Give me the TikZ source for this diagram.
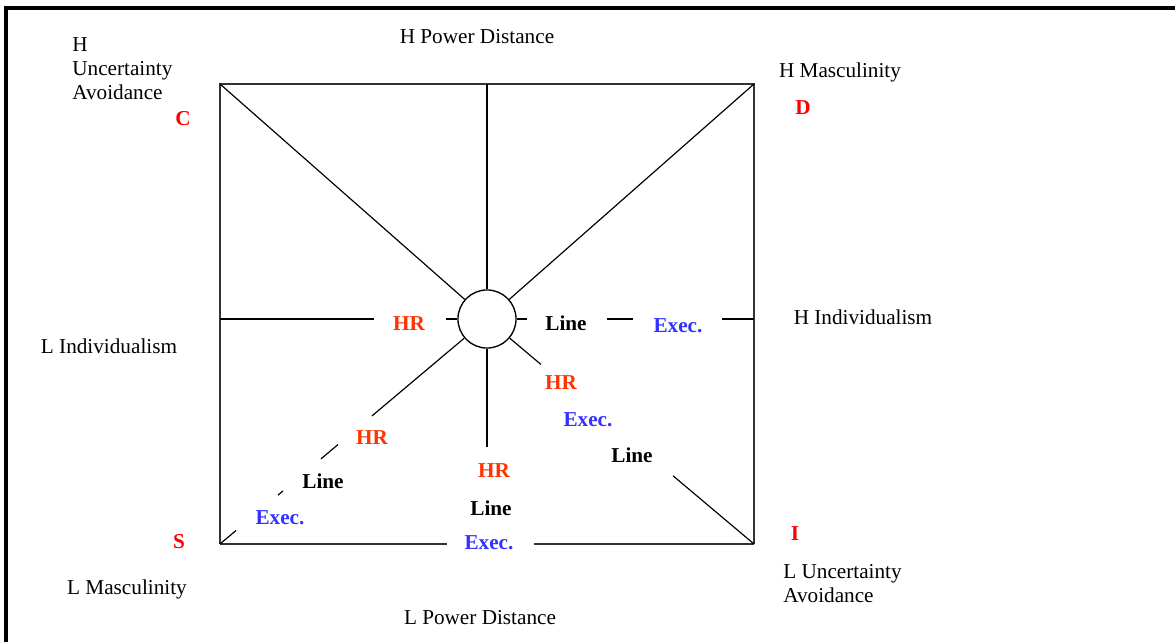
\documentclass[tikz,border=0pt]{standalone}
\usepackage{fontspec}
\setmainfont{Liberation Serif}
\usetikzlibrary{positioning, calc}
\definecolor{cCorner}{HTML}{FF0000}
\definecolor{cHr}{HTML}{FF3300}
\definecolor{cExec}{HTML}{3333FF}
\newcommand{\figfont}{\fontsize{12.6pt}{14.3pt}\selectfont}

\begin{document}
\begin{tikzpicture}[
  x=0.594pt, y=-0.594pt,
  every node/.style={font=\figfont},
  axis/.style={inner sep=0pt, align=left},
  corner/.style={font=\figfont\bfseries, text=cCorner},
  hr/.style={font=\figfont\bfseries, text=cHr},
  lineman/.style={font=\figfont\bfseries},
  exec/.style={font=\figfont\bfseries, text=cExec},
  sqline/.style={draw=black!80, line width=0.9pt},
  spoke/.style={draw=black, line width=0.7pt},
]
\useasboundingbox (0,0) rectangle (1175,642);
\clip (0,0) rectangle (1175,642);

% ---- page frame (cut by the picture edge) -----------------------------
\draw[line width=1.8pt] (6,660) -- (6,8) -- (1190,8);

% ---- square and hub ---------------------------------------------------
\coordinate (tl) at (220,84);
\coordinate (tr) at (754,84);
\coordinate (bl) at (220,544);
\coordinate (br) at (754,544);
\coordinate (topmid) at (487,84);
\node[circle, draw, line width=0.8pt, inner sep=0pt, minimum size=34.5pt]
  (hub) at (487,319) {};

\draw[sqline] (bl) -- (tl) -- (tr) -- (br);
\draw[sqline] (bl) -- (447,544);
\draw[sqline] (534,544) -- (br);

% ---- spokes -----------------------------------------------------------
\draw[spoke] (tl) -- (hub);
\draw[spoke] (tr) -- (hub);
\draw[spoke] (topmid) -- (hub);
\draw[spoke] (hub.south) -- (487,447);
% left / right
\draw[spoke] (220,319) -- (374,319);
\draw[spoke] (446,319) -- (hub.west);
\draw[spoke] (hub.east) -- (527,319);
\draw[spoke] (607,319) -- (633,319);
\draw[spoke] (722,319) -- (754,319);
% lower left, broken
\draw[spoke] (hub) -- ($(hub)!0.431!(bl)$);
\draw[spoke] ($(hub)!0.558!(bl)$) -- ($(hub)!0.622!(bl)$);
\draw[spoke] ($(hub)!0.764!(bl)$) -- ($(hub)!0.783!(bl)$);
\draw[spoke] ($(hub)!0.940!(bl)$) -- (bl);
% lower right, broken
\draw[spoke] (hub) -- ($(hub)!0.202!(br)$);
\draw[spoke] ($(hub)!0.697!(br)$) -- (br);

% ---- dimension labels -------------------------------------------------
\node (hpd) at (477,37) {H Power Distance};
\node (lpd) at (480,618) {L Power Distance};
\node[axis, anchor=north west] (hua) at (72,37) {H\\Uncertainty\\Avoidance};
\node[axis, anchor=north west] (lua) at (783,564) {L Uncertainty\\Avoidance};
\node (hmas) at (840,72) {H Masculinity};
\node (lmas) at (127,589) {L Masculinity};
\node (hind) at (863,317) {H Individualism};
\node (lind) at (109,346) {L Individualism};

% ---- corner letters ---------------------------------------------------
\node[corner] (lC) at (183,119) {C};
\node[corner] (lD) at (803,108) {D};
\node[corner] (lS) at (179,542) {S};
\node[corner] (lI) at (795,534) {I};

% ---- role labels ------------------------------------------------------
\node[hr] (hrW) at (409,324) {HR};
\node[lineman] (lnE) at (566,323) {Line};
\node[exec] (exE) at (678,326) {Exec.};

\node[hr] (hrSE) at (561,383) {HR};
\node[exec] (exSE) at (588,420) {Exec.};
\node[lineman] (lnSE) at (632,455) {Line};

\node[hr] (hrSW) at (372,438) {HR};
\node[lineman] (lnSW) at (323,481) {Line};
\node[exec] (exSW) at (280,518) {Exec.};

\node[hr] (hrS) at (494,471) {HR};
\node[lineman] (lnS) at (491,508) {Line};
\node[exec] (exS) at (489,543) {Exec.};

\end{tikzpicture}
\end{document}
